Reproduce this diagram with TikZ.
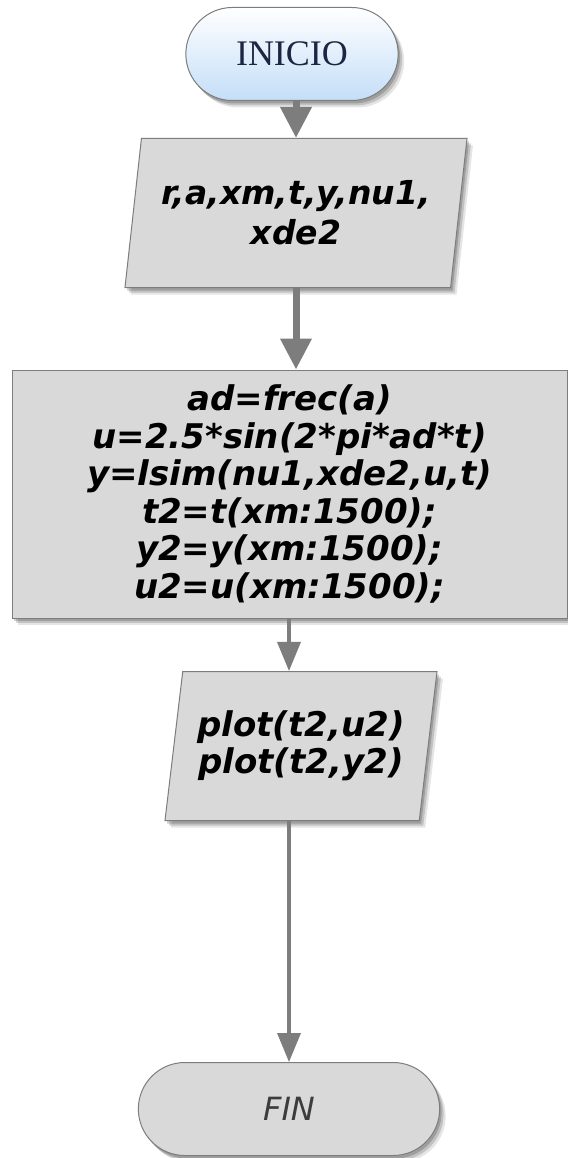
\documentclass[tikz,border=0pt]{standalone}
\usepackage{fontspec}
\setmainfont{DejaVu Sans}
\newfontfamily\titlefont{Liberation Serif}
\usepackage{tikz}
\usetikzlibrary{shapes,arrows.meta,shadows}

\definecolor{boxgray}{RGB}{217,217,217}
\definecolor{linegray}{RGB}{125,125,125}
\definecolor{startblue}{RGB}{196,222,248}
\definecolor{titleblue}{RGB}{28,38,66}
\definecolor{fingray}{RGB}{60,60,60}

\begin{document}
\begin{tikzpicture}[x=1pt,y=-1pt,
    % soft shadow built from a few faint copies
    shadowed/.style={general shadow={shadow xshift=2pt,shadow yshift=-3pt,opacity=0.18,fill=black},
        general shadow={shadow xshift=4pt,shadow yshift=-5pt,opacity=0.15,fill=black},
        general shadow={shadow xshift=6pt,shadow yshift=-7pt,opacity=0.1,fill=black}},
    startstop/.style={rounded rectangle, draw=linegray, line width=1pt, shadowed,
        minimum height=93pt},
    io/.style={trapezium, trapezium left angle=77, trapezium right angle=103,
        trapezium stretches body, draw=linegray, line width=1pt, fill=boxgray,
        shadowed, minimum height=149pt, align=center},
    process/.style={rectangle, draw=linegray, line width=1pt, fill=boxgray,
        shadowed, align=center, font=\fontsize{34}{37.5}\selectfont\bfseries\itshape},
    flow/.style={draw=linegray, line width=7pt, -{Triangle[length=31pt,width=30pt]}},
    thinflow/.style={draw=linegray, line width=3.5pt, -{Triangle[length=29pt,width=23pt]}}]

    \fill[white] (0,0) rectangle (567,1158);
    \useasboundingbox (0,0) rectangle (567,1158);

    % start and end
    \node[startstop, minimum width=219pt, top color=white, bottom color=startblue,
        text=titleblue, font=\titlefont\fontsize{36}{40}\selectfont] (ini) at (292,54) {INICIO};
    \node[startstop, minimum width=308pt, fill=boxgray, text=fingray,
        font=\fontsize{32}{36}\selectfont\itshape] (fin) at (289,1109) {FIN};

    % data in, computation, plots
    \node[io, minimum width=342pt, font=\fontsize{33}{40}\selectfont\bfseries\itshape]
        (inp) at (296,213) {r,a,xm,t,y,nu1,\\xde2};
    \node[process, minimum width=555pt, minimum height=248pt] (calc) at (289.5,494)
        {ad=frec(a)\\u=2.5*sin(2*pi*ad*t)\\y=lsim(nu1,xde2,u,t)\\t2=t(xm:1500);\\y2=y(xm:1500);\\u2=u(xm:1500);};
    \node[io, minimum width=272pt, font=\fontsize{34}{37}\selectfont\bfseries\itshape]
        (out) at (301,746) {plot(t2,u2)\\plot(t2,y2)};

    % connectors
    \coordinate (mid) at (296,0);
    \draw[flow] (mid |- ini.south) -- (mid |- inp.north);
    \draw[flow] (mid |- inp.south) -- (mid |- calc.north);
    \draw[thinflow] (fin.north |- calc.south) -- (fin.north |- out.north);
    \draw[thinflow] (fin.north |- out.south) -- (fin.north);
\end{tikzpicture}
\end{document}
